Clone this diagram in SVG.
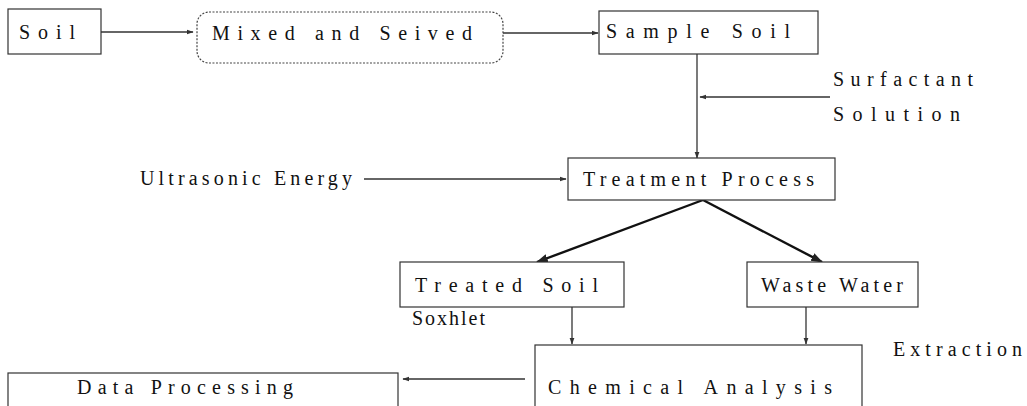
<svg xmlns="http://www.w3.org/2000/svg" width="1027" height="406" viewBox="0 0 1027 406">
<defs>
<style>
.box{fill:#fff;stroke:#333;stroke-width:1.2}
.dash{fill:#fff;stroke:#444;stroke-width:1.2;stroke-dasharray:2 1.5}
.t{font-family:'Liberation Serif','Times New Roman','DejaVu Serif',serif;font-size:20px;fill:#111}
.c{stroke:#333;stroke-width:1.3;fill:none}
.d{stroke:#111;stroke-width:2.4;fill:none}
</style>
<marker id="ah" viewBox="0 0 10 10" refX="9" refY="5" markerWidth="7" markerHeight="7" markerUnits="userSpaceOnUse" orient="auto">
<path d="M0,1.5 L10,5 L0,8.5 z" fill="#333"/>
</marker>
<marker id="ah2" viewBox="0 0 10 10" refX="9" refY="5" markerWidth="5" markerHeight="5" orient="auto">
<path d="M0,1.5 L10,5 L0,8.5 z" fill="#222"/>
</marker>
</defs>
<rect width="1027" height="406" fill="#fff"/>
<g id="connectors">
<line class="c" x1="101" y1="32" x2="193" y2="32" marker-end="url(#ah)"/>
<line class="c" x1="503" y1="33" x2="598" y2="33" marker-end="url(#ah)"/>
<line class="c" x1="697" y1="54" x2="697" y2="158" marker-end="url(#ah)"/>
<line class="c" x1="830" y1="97" x2="700" y2="97" marker-end="url(#ah)"/>
<line class="c" x1="364" y1="179" x2="566" y2="179" marker-end="url(#ah)"/>
<line class="d" x1="703" y1="200" x2="537" y2="262" marker-end="url(#ah2)"/>
<line class="d" x1="703" y1="200" x2="822" y2="262" marker-end="url(#ah2)"/>
<line class="c" x1="572" y1="307" x2="572" y2="344" marker-end="url(#ah)"/>
<line class="c" x1="806" y1="307" x2="806" y2="344" marker-end="url(#ah)"/>
<line class="c" x1="525" y1="379" x2="403" y2="379" marker-end="url(#ah)"/>
</g>
<g id="soil"><rect class="box" x="8" y="9" width="93" height="45"/><text class="t" font-family="Liberation Serif, serif" x="19" y="39" textLength="56" lengthAdjust="spacing">Soil</text></g>
<g id="mixed"><rect class="dash" x="197" y="12" width="306" height="51" rx="12"/><text class="t" x="212" y="40" textLength="260" lengthAdjust="spacing">Mixed and Seived</text></g>
<g id="sample"><rect class="box" x="599" y="11" width="219" height="43"/><text class="t" x="606" y="38" textLength="184" lengthAdjust="spacing">Sample Soil</text></g>
<g id="surfactant"><text class="t" x="833" y="86" textLength="140" lengthAdjust="spacing">Surfactant</text><text class="t" x="833" y="121" textLength="127" lengthAdjust="spacing">Solution</text></g>
<g id="ultrasonic"><text class="t" x="140" y="185" textLength="212" lengthAdjust="spacing">Ultrasonic Energy</text></g>
<g id="treatment"><rect class="box" x="568" y="158" width="267" height="42"/><text class="t" x="583" y="186" textLength="231" lengthAdjust="spacing">Treatment Process</text></g>
<g id="treated"><rect class="box" x="400" y="262" width="224" height="45"/><text class="t" x="415" y="292" textLength="183" lengthAdjust="spacing">Treated Soil</text></g>
<g id="waste"><rect class="box" x="747" y="262" width="171" height="45"/><text class="t" x="761" y="292" textLength="142" lengthAdjust="spacing">Waste Water</text></g>
<g id="soxhlet"><text class="t" x="412" y="325" textLength="73" lengthAdjust="spacing">Soxhlet</text></g>
<g id="extraction"><text class="t" x="893" y="356" textLength="129" lengthAdjust="spacing">Extraction</text></g>
<g id="data"><rect class="box" x="8" y="373" width="390" height="40"/><text class="t" x="77" y="394" textLength="216" lengthAdjust="spacing">Data Processing</text></g>
<g id="chemical"><rect class="box" x="535" y="345" width="327" height="70"/><text class="t" x="548" y="394" textLength="284" lengthAdjust="spacing">Chemical Analysis</text></g>
</svg>
